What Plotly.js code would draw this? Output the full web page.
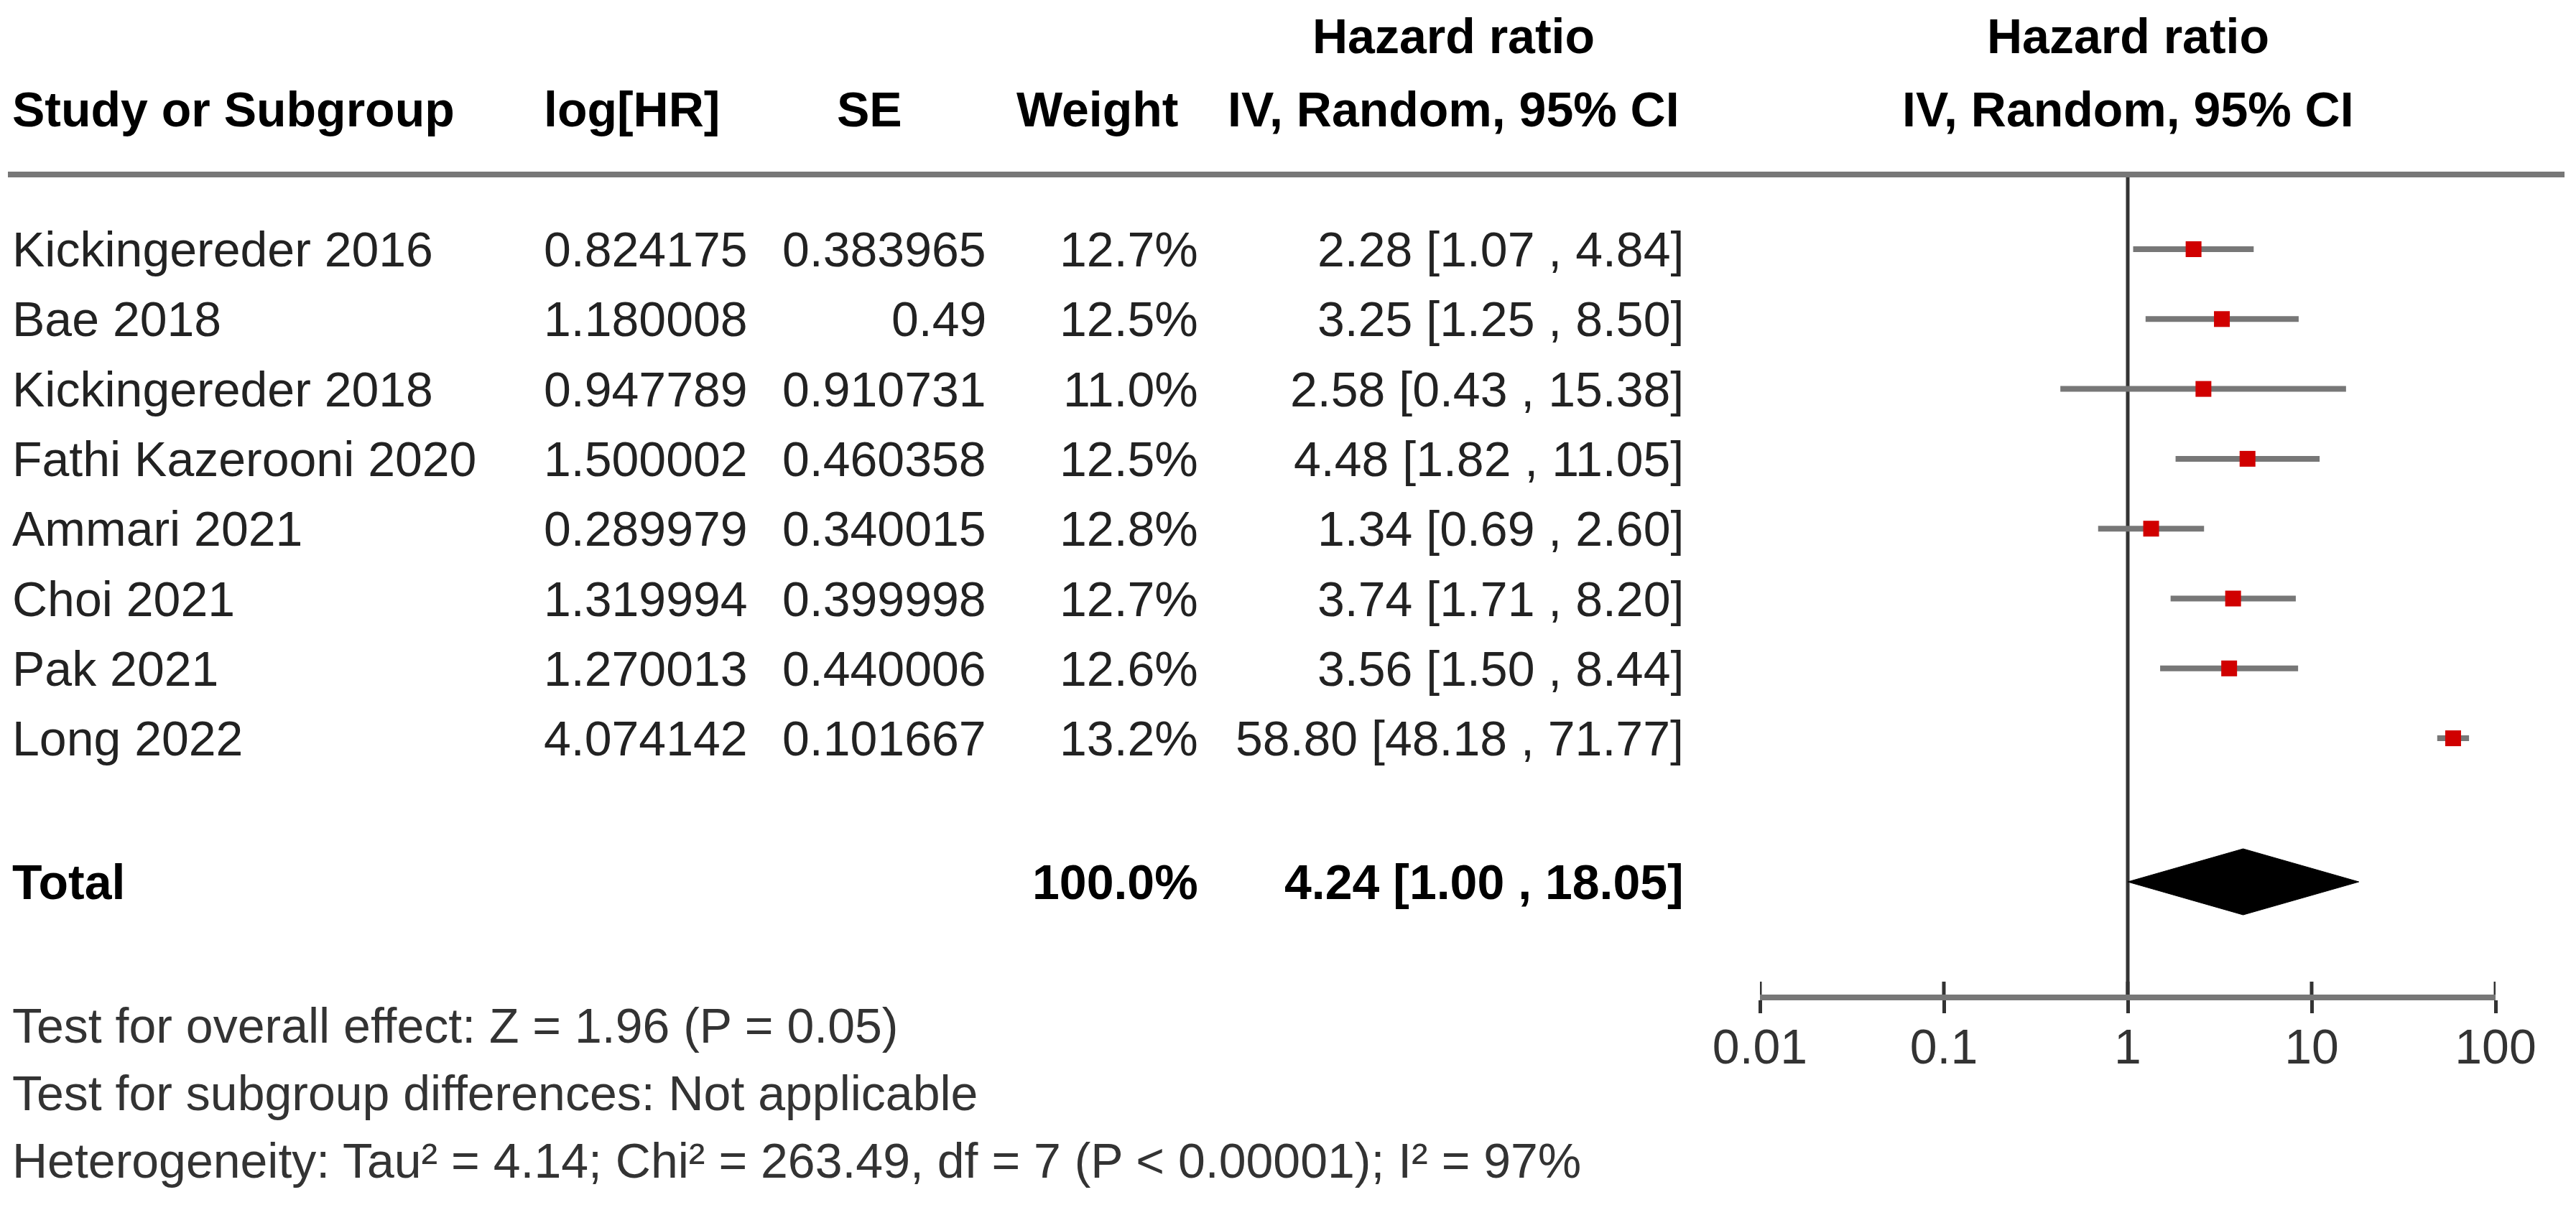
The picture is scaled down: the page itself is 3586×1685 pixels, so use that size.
<!DOCTYPE html>
<html>
<head>
<meta charset="utf-8">
<script src="https://cdn.plot.ly/plotly-3.0.1.min.js"></script>
<style>html,body{margin:0;padding:0;background:#fff;}#chart{width:3586px;height:1685px;}</style>
</head>
<body>
<div id="chart"></div>
<script>
// ---- data ----
const studies = ["Kickingereder 2016","Bae 2018","Kickingereder 2018","Fathi Kazerooni 2020","Ammari 2021","Choi 2021","Pak 2021","Long 2022"];
const logHR = [0.824175,1.180008,0.947789,1.500002,0.289979,1.319994,1.270013,4.074142];
const se = [0.383965,0.49,0.910731,0.460358,0.340015,0.399998,0.440006,0.101667];
const weight = [12.7,12.5,11.0,12.5,12.8,12.7,12.6,13.2];
const hr = [2.28,3.25,2.58,4.48,1.34,3.74,3.56,58.80];
const ciLow = [1.07,1.25,0.43,1.82,0.69,1.71,1.50,48.18];
const ciHigh = [4.84,8.50,15.38,11.05,2.60,8.20,8.44,71.77];
const totalLabel = "Total";
const totalWeight = 100.0;
const totalHR = 4.24, totalLow = 1.00, totalHigh = 18.05;
const tickVals = [0.01,0.1,1,10,100];
const tickText = ["0.01","0.1","1","10","100"];
const footer = [
  "Test for overall effect: Z = 1.96 (P = 0.05)",
  "Test for subgroup differences: Not applicable",
  "Heterogeneity: Tau² = 4.14; Chi² = 263.49, df = 7 (P &lt; 0.00001); I² = 97%"
];

// ---- layout geometry (pixels) ----
const W = 3586, H = 1685;
const FONT = "Liberation Sans, Arial, sans-serif";
const FS = 68;
const axisY = 1385;          // pixel row of the HR axis line
const headerLineY = 243;
const row0 = 347, rowStep = 97.3;
const totalY = 1228;
const footY0 = 1428, footStep = 94;
const plotL = 2450, plotR = 3474;

const px = x => x / W;
const py = y => 1 - y / H;
const rowY = studies.map((s, i) => row0 + i * rowStep);

const annotations = [];
function txt(text, x, y, anchor, bold, color) {
  annotations.push({
    text: bold ? "<b>" + text + "</b>" : text,
    xref: "paper", yref: "paper", x: px(x), y: py(y),
    xanchor: anchor, yanchor: "middle", showarrow: false,
    font: {family: FONT, size: FS, color: color || (bold ? "#000" : "#222")}
  });
}
// headers
txt("Hazard ratio", 2024, 50, "center", true);
txt("Hazard ratio", 2962, 50, "center", true);
txt("Study or Subgroup", 15, 152, "left", true);
txt("log[HR]", 755, 152, "left", true);
txt("SE", 1210, 152, "center", true);
txt("Weight", 1642, 152, "right", true);
txt("IV, Random, 95% CI", 2024, 152, "center", true);
txt("IV, Random, 95% CI", 2962, 152, "center", true);

const fmtCI = (a, b, c) => a.toFixed(2) + " [" + b.toFixed(2) + " , " + c.toFixed(2) + "]";
studies.forEach((s, i) => {
  const y = rowY[i];
  txt(s, 15, y, "left");
  txt(String(logHR[i]), 1043, y, "right");
  txt(String(se[i]), 1375, y, "right");
  txt(weight[i].toFixed(1) + "%", 1670, y, "right");
  txt(fmtCI(hr[i], ciLow[i], ciHigh[i]), 2346, y, "right");
});
txt(totalLabel, 15, totalY, "left", true);
txt(totalWeight.toFixed(1) + "%", 1670, totalY, "right", true);
txt(fmtCI(totalHR, totalLow, totalHigh), 2346, totalY, "right", true);
footer.forEach((f, i) => txt(f, 15, footY0 + i * footStep, "left", false, "#333"));

// ---- traces ----
const traces = [];
// line of no effect
traces.push({x: [1, 1], y: [headerLineY, axisY], mode: "lines", line: {color: "#333", width: 5}, hoverinfo: "skip", cliponaxis: false});
// upper halves of tick marks
const tx = [], ty = [];
tickVals.forEach(v => { tx.push(v, v, null); ty.push(axisY - 18, axisY, null); });
traces.push({x: tx, y: ty, mode: "lines", line: {color: "#333", width: 5}, hoverinfo: "skip", cliponaxis: false});
// studies: CI + square
traces.push({
  x: hr, y: rowY, mode: "markers", type: "scatter", cliponaxis: false,
  marker: {symbol: "square", size: 22, color: "#d00000", line: {width: 0}},
  error_x: {type: "data", symmetric: false,
    array: hr.map((v, i) => ciHigh[i] - v),
    arrayminus: hr.map((v, i) => v - ciLow[i]),
    color: "#777", thickness: 8, width: 0},
  hoverinfo: "skip"
});
// total diamond
const dh = 46;
traces.push({
  x: [totalLow, totalHR, totalHigh, totalHR, totalLow],
  y: [totalY, totalY - dh, totalY, totalY + dh, totalY],
  mode: "lines", fill: "toself", fillcolor: "#000", line: {color: "#000", width: 1},
  hoverinfo: "skip", cliponaxis: false
});

const layout = {
  width: W, height: H,
  margin: {l: 0, r: 0, t: 0, b: 0},
  paper_bgcolor: "#fff", plot_bgcolor: "rgba(0,0,0,0)",
  showlegend: false,
  xaxis: {
    type: "log", range: [-2, 2], domain: [px(plotL), px(plotR)],
    showgrid: false, zeroline: false,
    showline: true, linecolor: "#777", linewidth: 8,
    ticks: "outside", ticklen: 18, tickwidth: 5, tickcolor: "#333",
    ticklabelstandoff: -12,
    tickvals: tickVals, ticktext: tickText,
    tickfont: {family: FONT, size: FS, color: "#333"},
    fixedrange: true
  },
  yaxis: {
    range: [axisY, 0], domain: [1 - axisY / H, 1],
    visible: false, showgrid: false, zeroline: false, fixedrange: true
  },
  shapes: [{
    type: "line", xref: "paper", yref: "paper",
    x0: px(11), x1: px(3570), y0: py(headerLineY), y1: py(headerLineY),
    line: {color: "#777", width: 8}
  }],
  annotations: annotations
};

Plotly.newPlot("chart", traces, layout, {displayModeBar: false, staticPlot: true});
</script>
</body>
</html>
